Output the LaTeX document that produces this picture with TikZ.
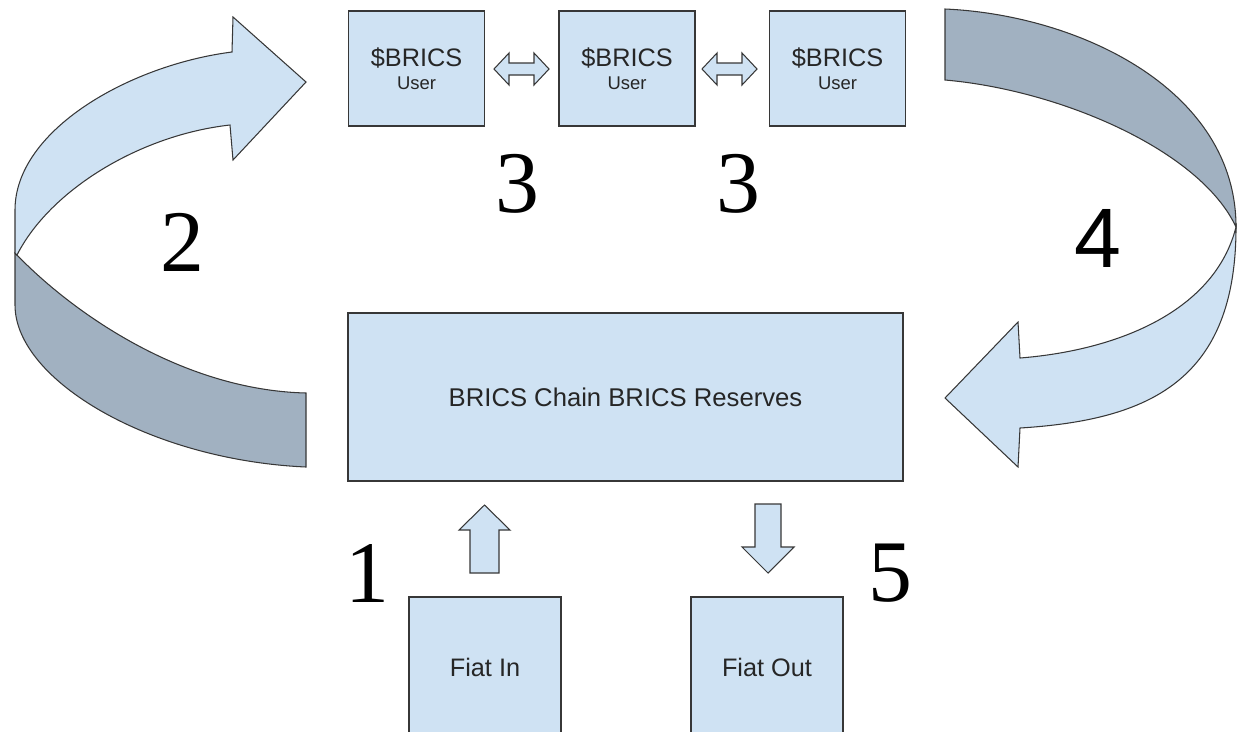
\documentclass[tikz,border=0pt]{standalone}
\usepackage{fontspec}
\setmainfont{Liberation Sans}
\newfontfamily\numfont{Liberation Serif}
\newfontfamily\sansnum{Liberation Sans}
\usetikzlibrary{positioning,calc}

\definecolor{boxblue}{RGB}{207,226,243}
\definecolor{ribbondark}{RGB}{161,177,193}
\definecolor{edgegray}{RGB}{55,55,55}

\tikzset{
  userbox/.style={draw=edgegray, line width=0.9pt, fill=boxblue, minimum width=2.72cm,
    minimum height=2.3cm, align=center, inner sep=0pt, text=black!85,
    font=\fontsize{14.4}{13}\selectfont},
  bigbox/.style={userbox, minimum width=11.1cm, minimum height=3.36cm, font=\fontsize{14.6}{13}\selectfont},
  fiatbox/.style={userbox, minimum width=3.04cm, minimum height=2.8cm},
  blockarrow/.style={draw=edgegray, line width=0.6pt, fill=boxblue},
  ribbon/.style={draw=edgegray, line width=0.6pt, fill=boxblue},
  ribbonback/.style={ribbon, fill=ribbondark},
  num/.style={inner sep=0pt, font=\numfont\fontsize{50}{50}\selectfont}
}

\begin{document}
\begin{tikzpicture}[x=0.02cm,y=-0.02cm]
    \useasboundingbox (0,0) rectangle (1239,731);
    \clip (0,0) rectangle (1239,731);

    % Users
    \node[userbox] (u1) at (416.5,68.5) {\$BRICS\\{\fontsize{10.5}{13}\selectfont User}};
    \node[userbox, right=1.46cm of u1] (u2) {\$BRICS\\{\fontsize{10.5}{13}\selectfont User}};
    \node[userbox, right=1.46cm of u2] (u3) {\$BRICS\\{\fontsize{10.5}{13}\selectfont User}};

    % Reserves and fiat
    \node[bigbox] (res) at (625.5,397) {BRICS Chain BRICS Reserves};
    \node[fiatbox] (fin) at (485,667) {Fiat In};
    \node[fiatbox] (fout) at (767,667) {Fiat Out};

    % Transfers between users
    \foreach \dx in {0,208}
      \draw[blockarrow, shift={(\dx,0)}] (494,69) -- (509,53) -- (509,63) -- (534,63) -- (534,53)
        -- (549,69) -- (534,85) -- (534,75) -- (509,75) -- (509,85) -- cycle;

    % Fiat in / out
    \draw[blockarrow] (470,573) -- (470,530) -- (459,530) -- (484.5,505) -- (510,530)
      -- (499,530) -- (499,573) -- cycle;
    \draw[blockarrow] (755,504) -- (781,504) -- (781,547) -- (794,547) -- (768,573)
      -- (742,547) -- (755,547) -- cycle;

    % Left ribbon arrow
    \draw[ribbonback] (17,255) .. controls (70,310) and (180,390) .. (306,393) -- (306,467)
      .. controls (150,460) and (15,380) .. (15,305) -- (15,253) -- cycle;
    \draw[ribbon] (306,82) -- (233,160) -- (230,125) .. controls (140,135) and (50,190) .. (17,255)
      -- (15,253) -- (15,210) .. controls (15,130) and (130,65) .. (232,52) -- (233,17) -- cycle;

    % Right ribbon arrow
    \draw[ribbonback] (945,9) .. controls (1080,15) and (1236,90) .. (1236,227)
      .. controls (1200,150) and (1060,90) .. (945,80) -- cycle;
    \draw[ribbon] (1236,227) .. controls (1236,380) and (1150,420) .. (1020,428) -- (1018,467)
      -- (945,398) -- (1018,322) -- (1020,358) .. controls (1120,350) and (1215,310) .. (1236,227) -- cycle;

    % Step numbers
    \node[num] (n1) at (367,573) {1};
    \node[num] (n2) at (182,242) {2};
    \node[num] (n3a) at (517,184) {3};
    \node[num] (n3b) at (738,184) {3};
    \node[num, font=\sansnum\fontsize{48}{48}\selectfont] (n4) at (1098,238) {4};
    \node[num] (n5) at (890,573) {5};
\end{tikzpicture}
\end{document}
